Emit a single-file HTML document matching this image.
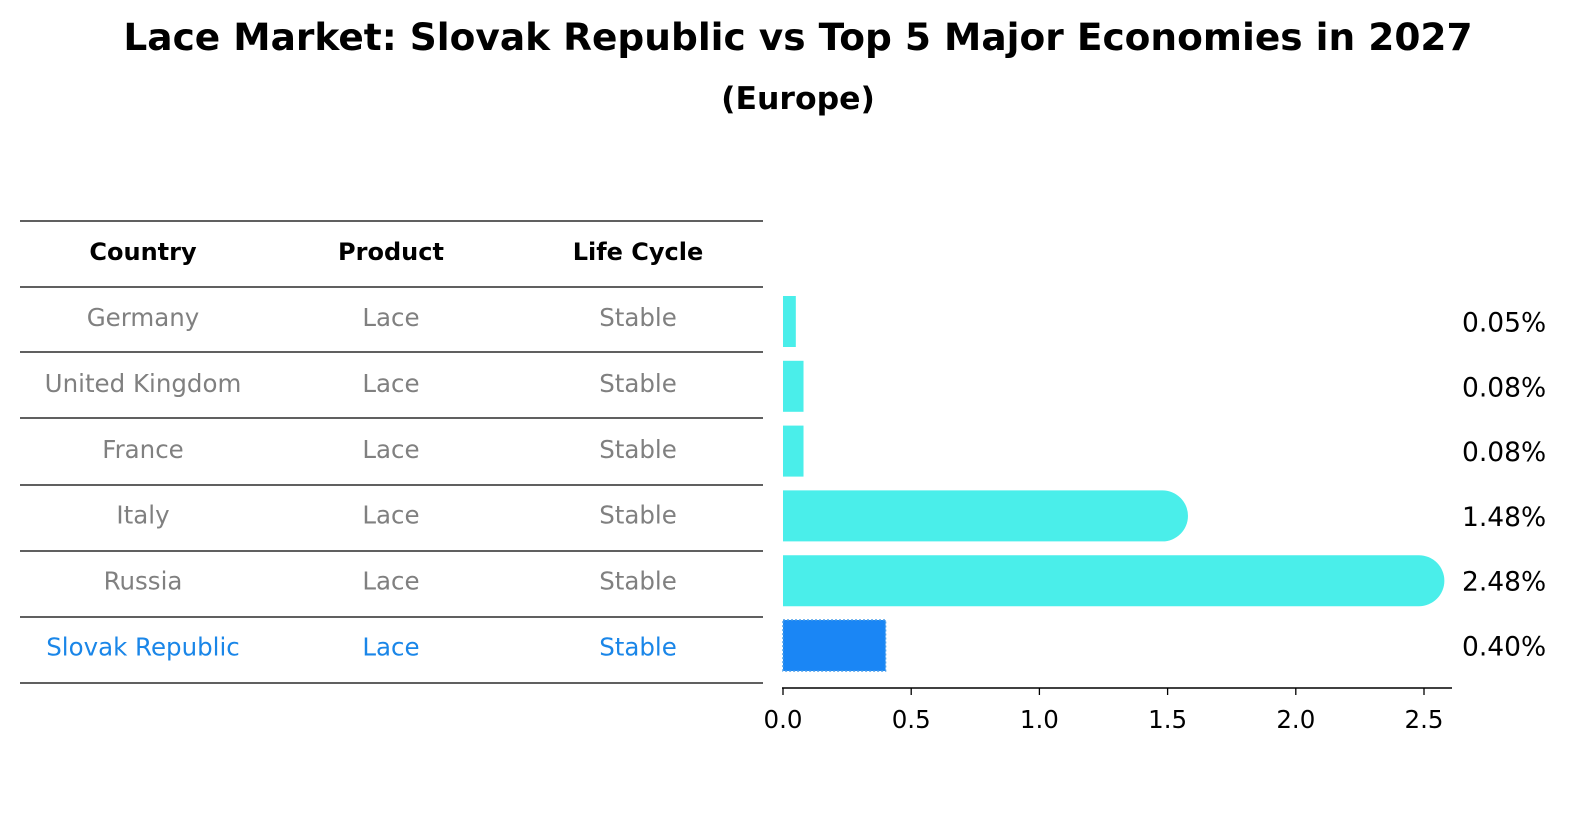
<!DOCTYPE html>
<html><head><meta charset="utf-8"><style>
body{margin:0;background:#fff;}
svg text{font-family:"DejaVu Sans","Liberation Sans",sans-serif;}
</style></head><body>
<svg width="1586" height="823" viewBox="0 0 1586 823">
<text x="798" y="50" text-anchor="middle" font-size="37.5" font-weight="bold">Lace Market: Slovak Republic vs Top 5 Major Economies in 2027</text>
<text x="798" y="109" text-anchor="middle" font-size="31.5" font-weight="bold">(Europe)</text>
<g id="table"></g>
<g id="bars"></g>
<g id="axis"></g>
</svg>
<script>
const countries=["Germany","United Kingdom","France","Italy","Russia","Slovak Republic"];
const products=["Lace","Lace","Lace","Lace","Lace","Lace"];
const cycles=["Stable","Stable","Stable","Stable","Stable","Stable"];
const values=[0.05,0.08,0.08,1.48,2.48,0.40];
const labels=["0.05%","0.08%","0.08%","1.48%","2.48%","0.40%"];
const ticks=[0,0.5,1.0,1.5,2.0,2.5];
const NS="http://www.w3.org/2000/svg";
function mk(tag,attrs,parent){const e=document.createElementNS(NS,tag);for(const k in attrs)e.setAttribute(k,attrs[k]);parent.appendChild(e);return e;}
const x=v=>783+v*256.4;
const rowY=i=>321.5+i*64.8;
const tbl=document.getElementById('table');
const lines=[221,287,352,418,485,551,617,683];
lines.forEach(y=>{const l=mk('line',{x1:20,x2:763,y1:y,y2:y,stroke:'#000','stroke-width':1.2},tbl);

});
const cols=[143,391,638];
["Country","Product","Life Cycle"].forEach((h,j)=>{const t=mk('text',{x:cols[j],y:260,'text-anchor':'middle','font-size':24,'font-weight':'bold'},tbl);t.textContent=h;

});
countries.forEach((c,i)=>{const col=i===countries.length-1?'#1a86e8':'#808080';
[c,products[i],cycles[i]].forEach((s,j)=>{const t=mk('text',{x:cols[j],y:326+i*65.9,'text-anchor':'middle','font-size':24.5,fill:col},tbl);t.textContent=s;

});});
const bars=document.getElementById('bars');
const h=51,r=25.5;
values.forEach((v,i)=>{const cy=rowY(i),y0=cy-h/2,x1=x(v);let el;
if(i===values.length-1){el=mk('rect',{x:783,y:y0,width:x1-783,height:h,fill:'#1a86f5',stroke:'#4a9ee8','stroke-dasharray':'2,2','stroke-width':1.5},bars);}
else if(v>1){el=mk('path',{d:`M783 ${y0} H${x1} A${r} ${r} 0 0 1 ${x1} ${y0+h} H783 Z`,fill:'#4aeeea'},bars);}
else{el=mk('rect',{x:783,y:y0,width:x1-783,height:h,fill:'#4aeeea'},bars);}


const t=mk('text',{x:1462,y:cy+10,'font-size':26.5},bars);t.textContent=labels[i];

});
const ax=document.getElementById('axis');
const al=mk('line',{x1:782,x2:1452,y1:688,y2:688,stroke:'#000','stroke-width':1.5},ax);


ticks.forEach(tv=>{const tk=mk('line',{x1:x(tv),x2:x(tv),y1:688,y2:695,stroke:'#000','stroke-width':1.3},ax);


const t=mk('text',{x:x(tv),y:728,'text-anchor':'middle','font-size':24.5},ax);t.textContent=tv.toFixed(1);

});
</script>
</body></html>
